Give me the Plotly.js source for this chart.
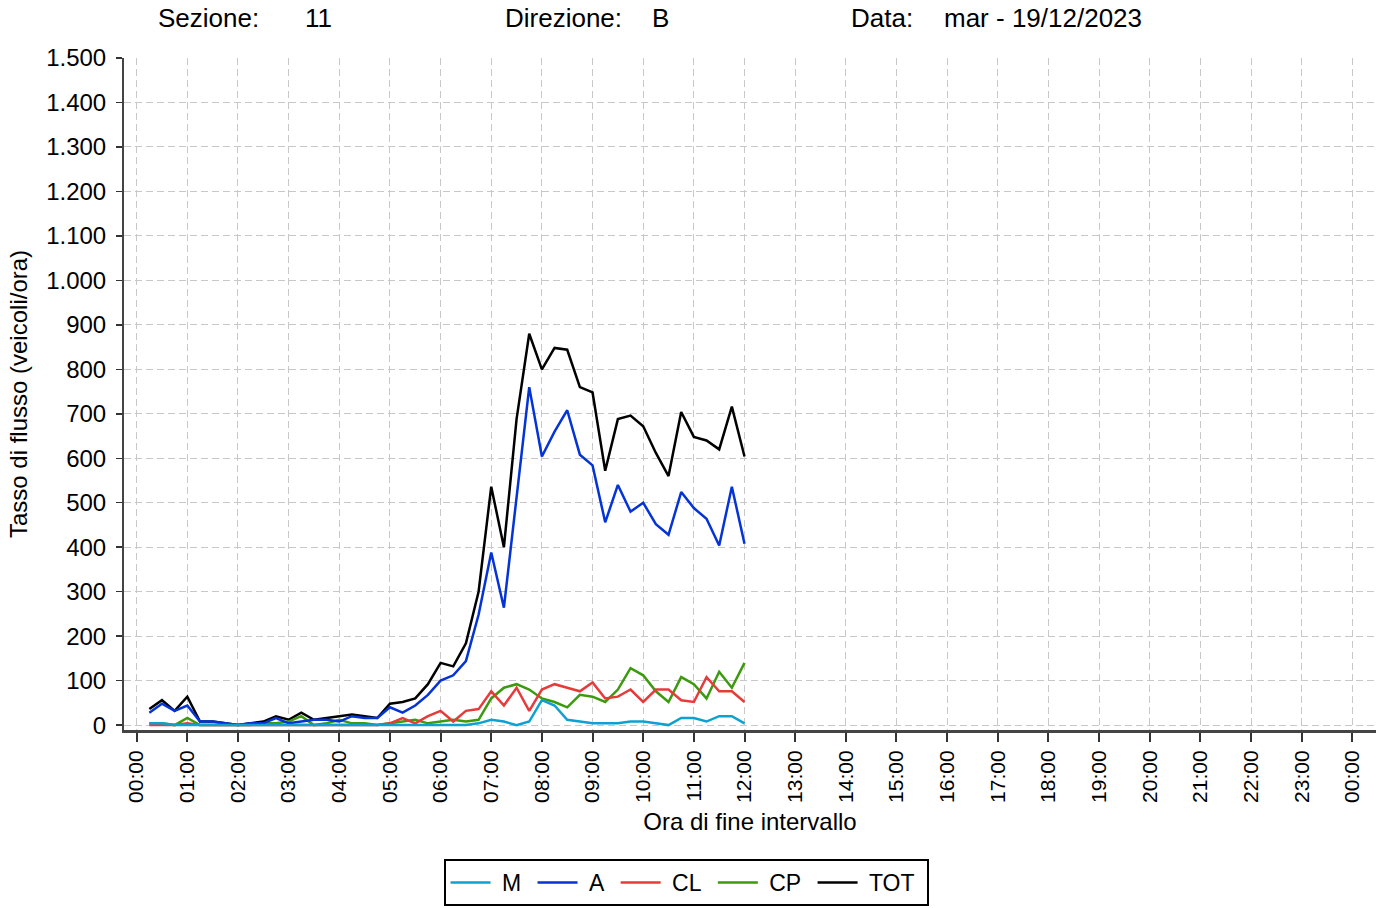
<!DOCTYPE html>
<html>
<head>
<meta charset="utf-8">
<script src="https://cdn.plot.ly/plotly-3.0.1.min.js"></script>
<style>
html, body { margin: 0; padding: 0; background: #fff; }
#chart { width: 1386px; height: 908px; }
</style>
</head>
<body>
<div id="chart"></div>
<script>
// End-of-interval times (15 min), 19/12/2023
const times = [
  "00:15","00:30","00:45","01:00","01:15","01:30","01:45","02:00",
  "02:15","02:30","02:45","03:00","03:15","03:30","03:45","04:00",
  "04:15","04:30","04:45","05:00","05:15","05:30","05:45","06:00",
  "06:15","06:30","06:45","07:00","07:15","07:30","07:45","08:00",
  "08:15","08:30","08:45","09:00","09:15","09:30","09:45","10:00",
  "10:15","10:30","10:45","11:00","11:15","11:30","11:45","12:00"
];
const valM = [
  4,4,0,0,0,0,0,0,
  0,0,0,0,0,0,0,0,
  0,0,0,0,0,0,0,0,
  0,0,4,12,8,0,8,56,
  44,12,8,4,4,4,8,8,
  4,0,16,16,8,20,20,4
];
const valA = [
  28,48,32,44,8,8,4,0,
  4,4,16,4,8,12,12,8,
  20,16,16,40,28,44,68,100,
  112,144,248,388,264,512,760,604,
  660,708,608,584,456,540,480,500,
  452,428,524,488,464,404,536,408
];
const valCL = [
  0,0,0,4,0,0,0,0,
  0,0,0,0,0,0,0,0,
  0,0,0,4,16,4,20,32,
  8,32,36,76,44,84,32,80,
  92,84,76,96,60,64,80,52,
  80,80,56,52,108,76,76,52
];
const valCP = [
  4,4,0,16,0,0,0,0,
  0,4,4,8,20,0,4,12,
  4,4,0,4,8,12,4,8,
  12,8,12,60,84,92,80,60,
  52,40,68,64,52,80,128,112,
  76,52,108,92,60,120,84,140
];
const valTOT = [
  36,56,32,64,8,8,4,0,
  4,8,20,12,28,12,16,20,
  24,20,16,48,52,60,92,140,
  132,184,300,536,400,688,880,800,
  848,844,760,748,572,688,696,672,
  612,560,704,648,640,620,716,604
];
const seriesNames = ["M","A","CL","CP","TOT"];
const seriesColors = {M:"#0fa0d2", A:"#0433d6", CL:"#e63b3b", CP:"#3c9a0e", TOT:"#000000"};
const dayStr = "2023-12-19";
const headerSezione = "11";
const headerDirezione = "B";
const headerData = "mar - 19/12/2023";

const xs = times.map(t => dayStr + " " + t);
const dataMap = {M: valM, A: valA, CL: valCL, CP: valCP, TOT: valTOT};

// draw TOT first, M last (M on top); legend shows M..TOT
const NB = "\u00a0";
const drawOrder = ["TOT","CP","CL","A","M"];
const traces = drawOrder.map(n => ({
  type: "scatter", mode: "lines", name: NB + n + NB,
  x: xs, y: dataMap[n],
  line: {color: seriesColors[n], width: 2.5}
}));

// hourly tick values 00:00 .. 00:00 next day
const tickvals = [], ticktext = [];
for (let h = 0; h <= 24; h++) {
  const d = new Date(Date.UTC(2023, 11, 19, h, 0, 0));
  const iso = d.toISOString().slice(0,19).replace("T"," ");
  tickvals.push(iso);
  ticktext.push(String(h % 24).padStart(2,"0") + ":00");
}

const font = "Liberation Sans, Arial, sans-serif";
const gridDash = "7px,4px";
const layout = {
  width: 1386, height: 908,
  paper_bgcolor: "#ffffff", plot_bgcolor: "#ffffff",
  margin: {l: 124, r: 10, t: 58, b: 178},
  separators: ",.",
  font: {family: font, size: 24, color: "#000"},
  showlegend: true,
  legend: {
    orientation: "h", traceorder: "reversed",
    xref: "container", yref: "container",
    x: 0.495, xanchor: "center", y: 1 - 859/908, yanchor: "top",
    bordercolor: "#000", borderwidth: 2,
    font: {family: font, size: 23, color: "#000"},
    itemwidth: 40
  },
  xaxis: {
    type: "date",
    range: ["2023-12-18 23:45", "2023-12-20 00:28"],
    tickmode: "array", tickvals: tickvals, ticktext: ticktext,
    tickangle: -90,
    ticks: "outside", ticklen: 9, tickwidth: 2, tickcolor: "#333",
    showline: true, linecolor: "#444", linewidth: 3,
    showgrid: true, gridcolor: "#c8c8c8", gridwidth: 1, griddash: gridDash,
    zeroline: false,
    tickfont: {family: font, size: 21, color: "#000"},
    title: {text: "Ora di fine intervallo", font: {family: font, size: 24, color: "#000"}, standoff: 12}
  },
  yaxis: {
    range: [-11, 1500],
    tickmode: "linear", tick0: 0, dtick: 100,
    tickformat: ",d",
    ticks: "outside", ticklen: 6, tickwidth: 1.5, tickcolor: "#333",
    ticklabelstandoff: 5,
    showline: true, linecolor: "#444", linewidth: 2,
    showgrid: true, gridcolor: "#c8c8c8", gridwidth: 1, griddash: gridDash,
    zeroline: false,
    tickfont: {family: font, size: 24, color: "#000"},
    title: {text: "Tasso di flusso (veicoli/ora)", font: {family: font, size: 24, color: "#000"}, standoff: 12}
  },
  annotations: [
    {text: "Sezione:", x: 158, y: 18},
    {text: headerSezione, x: 305, y: 18},
    {text: "Direzione:", x: 505, y: 18},
    {text: headerDirezione, x: 652, y: 18},
    {text: "Data:", x: 851, y: 18},
    {text: headerData, x: 944, y: 18}
  ].map(a => ({
    text: a.text, showarrow: false,
    xref: "paper", yref: "paper",
    x: (a.x - 124) / (1386 - 124 - 10), xanchor: "left", xshift: -2,
    y: 1 + (58 - a.y) / (908 - 58 - 178), yanchor: "middle",
    font: {family: font, size: 26, color: "#000"}
  }))
};

Plotly.newPlot("chart", traces, layout, {displayModeBar: false, staticPlot: true});
</script>
</body>
</html>
